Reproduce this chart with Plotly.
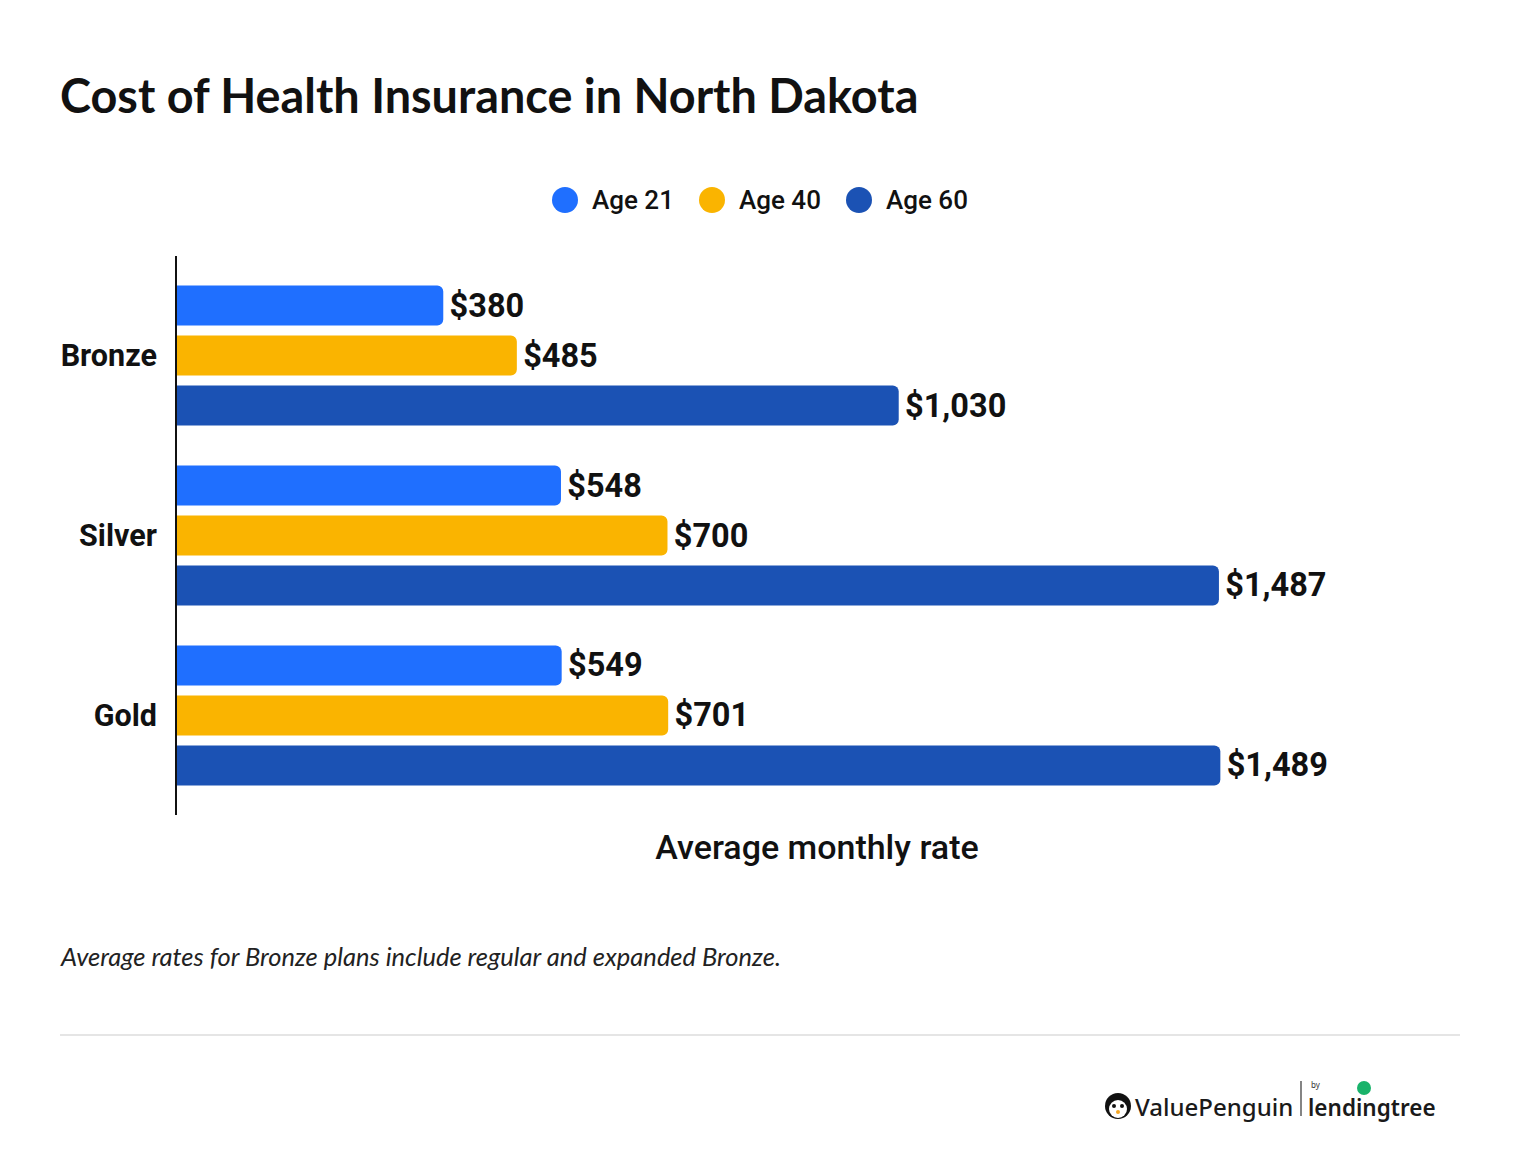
import plotly.graph_objects as go

plans = ["Bronze", "Silver", "Gold"]
series_names = ["Age 21", "Age 40", "Age 60"]
age21 = [380, 548, 549]
age40 = [485, 700, 701]
age60 = [1030, 1487, 1489]
colors = ["#1F6FFF", "#FAB400", "#1B52B4"]

W, H = 1520, 1168
L, R, T, B = 177, 63, 256, 353
PW = W - L - R
PH = H - T - B

def px(x):
    return (x - L) / PW

def py(y):
    return (H - B - y) / PH

fig = go.Figure()
for name, vals, col in zip(series_names, [age21, age40, age60], colors):
    fig.add_trace(go.Bar(
        y=plans, x=vals, name=name, orientation="h",
        marker=dict(color=col, line=dict(width=0)),
        text=["\u200a$" + format(v, ",") for v in vals],
        textposition="outside", cliponaxis=False,
        textfont=dict(family="Roboto", size=32.5, color="#111111", weight="bold"),
        showlegend=False, hoverinfo="skip",
    ))

# manual legend (circles + labels)
leg_x0 = 565
leg_step = 147
leg_y = 200
for i, (name, col) in enumerate(zip(series_names, colors)):
    cx = leg_x0 + i * leg_step
    fig.add_shape(type="circle", xref="paper", yref="paper",
                  x0=px(cx - 13), x1=px(cx + 13), y0=py(leg_y + 13), y1=py(leg_y - 13),
                  fillcolor=col, line=dict(width=0))
    fig.add_annotation(text=name, xref="paper", yref="paper", x=px(cx + 25), y=py(leg_y),
                       xanchor="left", yanchor="middle", showarrow=False,
                       font=dict(family="Roboto", size=26, color="#111111", weight=500))

# footnote
fig.add_annotation(text="<i>Average rates for Bronze plans include regular and expanded Bronze.</i>",
                   xref="paper", yref="paper", x=px(58), y=py(956), xanchor="left", yanchor="middle",
                   showarrow=False, font=dict(family="Lato", size=25.5, color="#222222"))
# separator
fig.add_shape(type="line", xref="paper", yref="paper", x0=px(60), x1=px(1460), y0=py(1035), y1=py(1035),
              line=dict(color="#DDDDDD", width=1.5))

# logo
fig.add_shape(type="circle", xref="paper", yref="paper", x0=px(1105), x1=px(1131), y0=py(1119), y1=py(1093),
              fillcolor="#111111", line=dict(width=0))
fig.add_shape(type="circle", xref="paper", yref="paper", x0=px(1109), x1=px(1127), y0=py(1118), y1=py(1100),
              fillcolor="#FFFFFF", line=dict(width=0))
fig.add_shape(type="circle", xref="paper", yref="paper", x0=px(1112), x1=px(1116), y0=py(1108), y1=py(1104),
              fillcolor="#111111", line=dict(width=0))
fig.add_shape(type="circle", xref="paper", yref="paper", x0=px(1120), x1=px(1124), y0=py(1108), y1=py(1104),
              fillcolor="#111111", line=dict(width=0))
fig.add_shape(type="circle", xref="paper", yref="paper", x0=px(1116), x1=px(1120), y0=py(1114), y1=py(1110),
              fillcolor="#F5A623", line=dict(width=0))
fig.add_annotation(text="ValuePenguin", xref="paper", yref="paper", x=px(1133), y=py(1106),
                   xanchor="left", yanchor="middle", showarrow=False,
                   font=dict(family="Noto Sans", size=24, color="#1A1A1A", weight=500))
fig.add_shape(type="line", xref="paper", yref="paper", x0=px(1301), x1=px(1301), y0=py(1081), y1=py(1116),
              line=dict(color="#333333", width=1.2))
fig.add_annotation(text="by", xref="paper", yref="paper", x=px(1309), y=py(1084),
                   xanchor="left", yanchor="middle", showarrow=False,
                   font=dict(family="Noto Sans", size=8, color="#333333"))
fig.add_annotation(text="lendingtree", xref="paper", yref="paper", x=px(1306), y=py(1107),
                   xanchor="left", yanchor="middle", showarrow=False,
                   font=dict(family="Noto Sans", size=22.5, color="#1A1A1A", weight=600))
fig.add_shape(type="circle", xref="paper", yref="paper", x0=px(1357), x1=px(1371), y0=py(1095), y1=py(1081),
              fillcolor="#19B36B", line=dict(width=0))

fig.update_layout(
    width=W, height=H,
    margin=dict(l=L, r=R, t=T, b=B, autoexpand=False),
    paper_bgcolor="white", plot_bgcolor="white",
    barmode="group", bargap=1 - 150 / 180, bargroupgap=0.2, barcornerradius=6,
    title=dict(text="Cost of Health Insurance in North Dakota", xref="container", yref="container",
               x=60 / W, y=1 - 97 / H, xanchor="left", yanchor="middle",
               font=dict(family="Lato", size=46.8, color="#111111", weight="bold")),
    xaxis=dict(range=[0, PW / 0.7007], showticklabels=False, showgrid=False, zeroline=False,
               showline=False, ticks="",
               title=dict(text="Average monthly rate", standoff=20,
                          font=dict(family="Roboto", size=34, color="#111111", weight=500))),
    yaxis=dict(type="category", range=[2.553, -0.553], showgrid=False, zeroline=False,
               showline=True, linecolor="#111111", linewidth=2, ticks="", ticklabelstandoff=12,
               tickfont=dict(family="Roboto", size=30.5, color="#111111", weight="bold")),
)

fig.write_html("out.html", config={"displayModeBar": False},
               post_script="document.body.style.margin='0';")
